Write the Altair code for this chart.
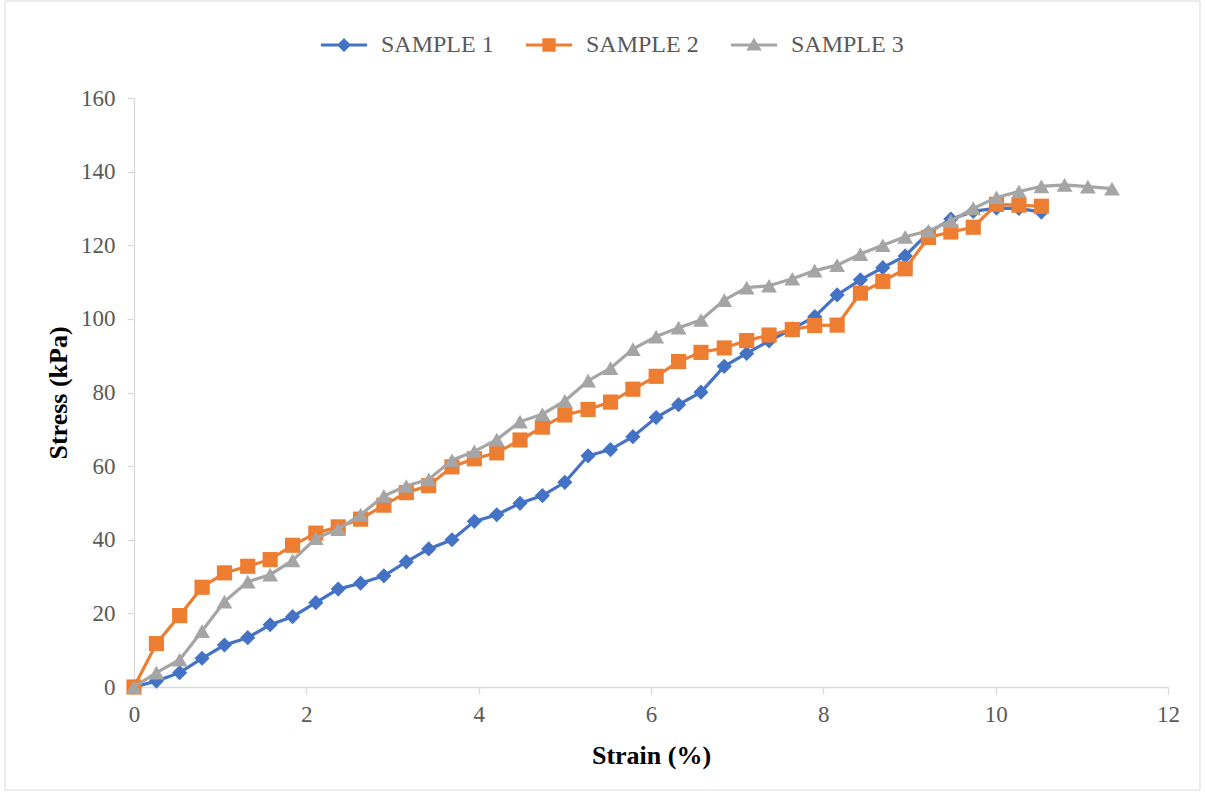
import altair as alt
import pandas as pd

# ---- data ----
strain = [0.00, 0.26, 0.53, 0.79, 1.05, 1.32, 1.58, 1.84, 2.11, 2.37,
          2.63, 2.90, 3.16, 3.42, 3.69, 3.95, 4.21, 4.48, 4.74, 5.00,
          5.27, 5.53, 5.79, 6.06, 6.32, 6.58, 6.85, 7.11, 7.37, 7.64,
          7.90, 8.16, 8.43, 8.69, 8.95, 9.22, 9.48, 9.74, 10.01, 10.27,
          10.53, 10.80, 11.07, 11.35]

sample1 = [0, 1.6, 3.9, 7.8, 11.4, 13.4, 16.9, 19.1, 22.9, 26.6,
           28.2, 30.2, 34.0, 37.5, 40.0, 45.0, 46.8, 49.9, 52.0, 55.6,
           62.8, 64.5, 68.0, 73.2, 76.7, 80.1, 87.1, 90.6, 94.0, 97.3,
           100.6, 106.5, 110.6, 113.9, 117.1, 123.4, 127.1, 129.2, 130.1, 130.0,
           129.0]

sample2 = [0, 11.8, 19.4, 27.1, 31.0, 32.8, 34.6, 38.5, 41.8, 43.5,
           45.6, 49.4, 52.8, 54.7, 59.8, 62.0, 63.6, 67.1, 70.6, 73.9,
           75.4, 77.4, 80.9, 84.4, 88.4, 90.9, 92.1, 94.1, 95.6, 97.1,
           98.2, 98.3, 107.0, 110.2, 113.6, 122.1, 123.6, 124.9, 131.1, 130.9,
           130.6]

sample3 = [0, 3.9, 7.4, 15.2, 23.2, 28.6, 30.5, 34.4, 40.4, 42.9,
           46.8, 51.9, 54.6, 56.4, 61.6, 64.0, 67.2, 72.1, 74.1, 77.7,
           83.2, 86.6, 91.8, 95.2, 97.6, 99.7, 105.1, 108.5, 109.0, 110.9,
           113.1, 114.6, 117.6, 120.0, 122.3, 123.9, 126.6, 130.0, 133.0, 134.6,
           136.0, 136.4, 135.9, 135.4]

names = ["SAMPLE 1", "SAMPLE 2", "SAMPLE 3"]
colors = ["#4472C4", "#ED7D31", "#A5A5A5"]
shapes = ["diamond", "square", "triangle-up"]
sizes = [230, 230, 250]

rows = []
for name, vals in zip(names, [sample1, sample2, sample3]):
    for x, y in zip(strain, vals):
        rows.append({"series": name, "strain": x, "stress": y})
df = pd.DataFrame(rows)

FONT = "Liberation Serif"
W, H = 1034, 589

# custom legend glyphs: a line with the marker on it
LINE = "M-3.3,-0.22H3.3V0.22H-3.3Z "
P1 = LINE + "M0,-1L1,0L0,1L-1,0Z"
P2 = LINE + "M-0.95,-0.95H0.95V0.95H-0.95Z"
P3 = LINE + "M0,-1.05L1.1,0.8L-1.1,0.8Z"

color_scale = alt.Scale(domain=names, range=colors)
legend_shape_scale = alt.Scale(domain=names, range=[P1, P2, P3])
legend = alt.Legend(
    title=None, orient="none", direction="horizontal",
    legendX=198, legendY=-65, padding=0,
    symbolSize=196, labelOffset=25, columnPadding=31,
    symbolOpacity=1, symbolStrokeWidth=0,
    labelFont=FONT, labelFontSize=24, labelColor="#595959",
)

x_enc = alt.X("strain:Q", scale=alt.Scale(domain=[0, 12], nice=False),
              axis=alt.Axis(values=[0, 2, 4, 6, 8, 10, 12], title="Strain (%)",
                            grid=False, format="d", labelFlush=False))
y_enc = alt.Y("stress:Q", scale=alt.Scale(domain=[0, 160], nice=False),
              axis=alt.Axis(values=[0, 20, 40, 60, 80, 100, 120, 140, 160],
                            title="Stress (kPa)", grid=False, format="d", labelFlush=False))

border = alt.Chart(pd.DataFrame({"a": [0]})).mark_rect(
    fill="transparent", stroke="#d9d9d9", strokeWidth=1
).encode(x=alt.value(-129), x2=alt.value(1066), y=alt.value(-97), y2=alt.value(692))

# invisible layer that only carries the legend
legend_layer = alt.Chart(df).mark_point(filled=True, opacity=0, size=196).encode(
    x=x_enc, y=y_enc,
    color=alt.Color("series:N", scale=color_scale, legend=legend),
    shape=alt.Shape("series:N", scale=legend_shape_scale, legend=legend),
)

layers = [border, legend_layer]
for i, name in enumerate(names):
    base = alt.Chart(df).transform_filter(alt.datum.series == name)
    line = base.mark_line(strokeWidth=3.2).encode(
        x=x_enc, y=y_enc,
        color=alt.Color("series:N", scale=color_scale, legend=None),
        order=alt.Order("strain:Q"),
    )
    pts = base.mark_point(shape=shapes[i], size=sizes[i], filled=True, opacity=1).encode(
        x=x_enc, y=y_enc,
        color=alt.Color("series:N", scale=color_scale, legend=None),
    )
    layers += [line, pts]

chart = alt.layer(*layers).properties(
    width=W, height=H,
    autosize=alt.AutoSizeParams(type="none"),
    padding={"left": 134, "top": 98, "right": 37, "bottom": 109},
    background="white",
).configure_view(stroke=None).configure_axis(
    labelFont=FONT, labelFontSize=23, labelColor="#595959",
    titleFont=FONT, titleFontSize=26, titleFontWeight="bold", titleColor="#000000",
    domainColor="#d9d9d9", domainWidth=1.3, tickColor="#d9d9d9", tickWidth=1.3, tickSize=7,
).configure_axisY(labelPadding=12, titlePadding=9).configure_axisX(labelPadding=9, titlePadding=16)

chart.save("out.html", embed_options={"renderer": "svg", "actions": False})
